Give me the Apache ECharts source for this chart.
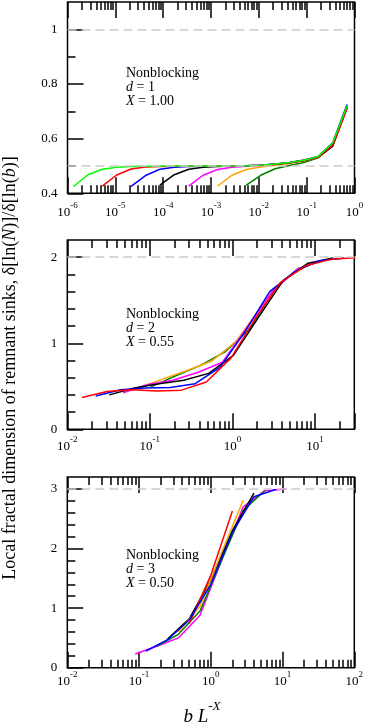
<!DOCTYPE html>
<html><head><meta charset="utf-8">
<script src="https://cdn.jsdelivr.net/npm/echarts@6/dist/echarts.min.js"></script>
<style>html,body{margin:0;padding:0;background:#fff}#c{width:366px;height:727px}</style>
</head><body><div id="c"></div>
<script>
// ---------- Panel 1 (d = 1, X = 1.00) ----------
const p1X = [1.335e-6, 2.67e-6, 5.34e-6, 1.068e-5, 2.136e-5, 4.272e-5, 8.545e-5, 1.709e-4, 3.418e-4, 6.836e-4,
             1.367e-3, 2.734e-3, 5.469e-3, 0.01094, 0.02188, 0.04375, 0.0875, 0.175, 0.35, 0.7];
const p1Lime    = [0.425, 0.468, 0.488, 0.495, 0.498, 0.499, 0.5, 0.5, 0.5, 0.5, 0.5, 0.5, 0.501, 0.503, 0.507, 0.513, 0.521, 0.535, 0.585, 0.72];
const p1Red     = [null, null, 0.426, 0.467, 0.489, 0.496, 0.498, 0.499, 0.5, 0.5, 0.5, 0.5, 0.501, 0.503, 0.506, 0.512, 0.52, 0.532, 0.575, 0.71];
const p1Blue    = [null, null, null, null, 0.425, 0.465, 0.488, 0.495, 0.498, 0.499, 0.5, 0.5, 0.501, 0.503, 0.507, 0.513, 0.522, 0.535, 0.585, 0.725];
const p1Black   = [null, null, null, null, null, null, 0.43, 0.468, 0.488, 0.495, 0.498, 0.5, 0.501, 0.503, 0.506, 0.512, 0.52, 0.532, 0.572, 0.715];
const p1Magenta = [null, null, null, null, null, null, null, null, 0.426, 0.466, 0.487, 0.495, 0.499, 0.502, 0.506, 0.512, 0.52, 0.533, 0.58, 0.72];
const p1Orange  = [null, null, null, null, null, null, null, null, null, null, 0.426, 0.466, 0.487, 0.496, 0.502, 0.509, 0.518, 0.532, 0.578, 0.718];
const p1DkGreen = [null, null, null, null, null, null, null, null, null, null, null, null, 0.43, 0.466, 0.49, 0.502, 0.513, 0.53, 0.575, 0.715];

// ---------- Panel 2 (d = 2, X = 0.55) ----------
const p2RedX     = [0.0151, 0.0302, 0.0604, 0.121, 0.242, 0.483, 0.966, 1.93, 3.87, 7.73, 15.5, 30.9];
const p2Red      = [0.37, 0.44, 0.46, 0.445, 0.455, 0.55, 0.83, 1.3, 1.71, 1.9, 1.975, 1.995];
const p2BlueX    = [0.0221, 0.0442, 0.0884, 0.177, 0.354, 0.707, 1.41, 2.83, 5.66, 11.3, 22.6];
const p2Blue     = [0.386, 0.46, 0.48, 0.485, 0.53, 0.72, 1.13, 1.6, 1.83, 1.96, 1.99];
const p2BlackX   = [0.0323, 0.0646, 0.129, 0.258, 0.517, 1.03, 2.07, 4.13, 8.27, 16.5];
const p2Black    = [0.40, 0.48, 0.53, 0.57, 0.65, 0.86, 1.3, 1.73, 1.93, 1.99];
const p2MagentaX = [0.0474, 0.0948, 0.19, 0.379, 0.758, 1.52, 3.03, 6.07, 12.1];
const p2Magenta  = [0.425, 0.52, 0.57, 0.66, 0.78, 1.19, 1.6, 1.86, 1.96];
const p2OrangeX  = [0.0694, 0.139, 0.278, 0.555, 1.11, 2.22, 4.44, 8.88];
const p2Orange   = [0.47, 0.58, 0.68, 0.79, 1.02, 1.42, 1.75, 1.93];
const p2DkGreenX = [0.1016, 0.203, 0.406, 0.813, 1.63, 3.25, 6.5];
const p2DkGreen  = [0.49, 0.62, 0.74, 0.9, 1.17, 1.63, 1.88];

// ---------- Panel 3 (d = 3, X = 0.50) ----------
const p3MagentaX = [0.0884, 0.177, 0.354, 0.707, 1.41, 2.83, 5.66, 11.3];
const p3Magenta  = [0.23, 0.36, 0.5, 0.88, 1.8, 2.7, 2.97, 3.0];
const p3BlueX    = [0.125, 0.25, 0.5, 1.0, 2.0, 4.0, 8.0];
const p3Blue     = [0.28, 0.47, 0.8, 1.4, 2.27, 2.87, 2.99];
const p3DkGreenX = [0.177, 0.354, 0.707, 1.41, 2.83, 5.66];
const p3DkGreen  = [0.36, 0.56, 0.95, 1.8, 2.64, 2.97];
const p3BlackX   = [0.25, 0.5, 1.0, 2.0, 4.0];
const p3Black    = [0.48, 0.82, 1.47, 2.3, 2.93];
const p3OrangeX  = [0.354, 0.707, 1.41, 2.83];
const p3Orange   = [0.6, 1.03, 1.93, 2.81];
const p3RedX     = [0.5, 1.0, 2.0];
const p3Red      = [0.74, 1.55, 2.63];

// ---------- Axes / ticks ----------
const xRange1 = [1e-6, 1];
const xRange2 = [0.01, 30];
const xRange3 = [0.01, 100];
const yRange1 = [0.4, 1.1];
const yRange2 = [0, 2.2];
const yRange3 = [0, 3.2];
const yMajor1 = [0.4, 0.6, 0.8, 1];
const yMinor1 = [0.5, 0.7, 0.9];
const yMajor2 = [0, 1, 2];
const yMinor2 = [0.2, 0.4, 0.6, 0.8, 1.2, 1.4, 1.6, 1.8];
const yMajor3 = [0, 1, 2, 3];
const yMinor3 = [0.2, 0.4, 0.6, 0.8, 1.2, 1.4, 1.6, 1.8, 2.2, 2.4, 2.6, 2.8];
const refLines1 = [1, 0.5];
const refLines2 = [2];
const refLines3 = [3];

const COLORS = {lime: '#00ff00', red: '#ff0000', blue: '#0000ff', black: '#000000',
                magenta: '#ff00ff', orange: '#ffa500', dkgreen: '#008000'};
const FONT = 'Liberation Serif';

function minorLog(min, max) {
  const out = [];
  for (let d = Math.floor(Math.log10(min)); d <= Math.ceil(Math.log10(max)); d++) {
    for (let m = 2; m <= 9; m++) {
      const v = m * Math.pow(10, d);
      if (v > min && v < max) out.push(v);
    }
  }
  return out;
}

const tickLine = {color: '#000', width: 1.5};
const logRich = {
  b: {fontSize: 13, fontFamily: FONT, color: '#000', lineHeight: 18, verticalAlign: 'bottom'},
  s: {fontSize: 9, fontFamily: FONT, color: '#000', verticalAlign: 'top'}
};
function logFmt(v) {
  const e = Math.round(Math.log10(v));
  if (Math.abs(v - Math.pow(10, e)) > 1e-6 * v) return '';
  return '{b|10}{s|' + e + '}';
}

const grids = [
  {left: 67.5, top: 2, width: 287, height: 191.3},
  {left: 67.3, top: 240, width: 287, height: 189.3},
  {left: 67.3, top: 477, width: 287, height: 190.7}
].map(g => Object.assign({show: true, borderColor: '#000', borderWidth: 1.5, outerBoundsMode: 'none', containLabel: false}, g));

const xAxes = [];
const yAxes = [];
const xRanges = [xRange1, xRange2, xRange3];
const labelMargins = [8, 6, 2];
const mainX = [], mainY = [];
for (let g = 0; g < 3; g++) {
  const [mn, mx] = xRanges[g];
  const minors = minorLog(mn, mx);
  ['bottom', 'top'].forEach(pos => {
    if (pos === 'bottom') mainX.push(xAxes.length);
    xAxes.push({
      gridIndex: g, type: 'log', logBase: 10, min: mn, max: mx, position: pos,
      axisLine: {show: false}, splitLine: {show: false},
      axisTick: {show: true, inside: true, length: 16, lineStyle: tickLine},
      minorTick: {show: false},
      axisLabel: {show: pos === 'bottom', margin: labelMargins[g], interval: 0, formatter: logFmt, rich: logRich,
                  showMinLabel: true, showMaxLabel: true}
    });
    xAxes.push({
      gridIndex: g, type: 'log', logBase: 10, min: mn, max: mx, position: pos,
      axisLine: {show: false}, splitLine: {show: false},
      axisTick: {show: true, inside: true, length: 8, lineStyle: tickLine, customValues: minors},
      axisLabel: {show: false}
    });
  });
}
const yRanges = [yRange1, yRange2, yRange3];
const yMajors = [yMajor1, yMajor2, yMajor3];
const yMinors = [yMinor1, yMinor2, yMinor3];
for (let g = 0; g < 3; g++) {
  mainY.push(yAxes.length);
  yAxes.push({
    gridIndex: g, type: 'value', min: yRanges[g][0], max: yRanges[g][1], position: 'left',
    axisLine: {show: false}, splitLine: {show: false},
    axisTick: {show: true, inside: true, length: 16, lineStyle: tickLine, customValues: yMajors[g]},
    axisLabel: {show: true, margin: 10, fontSize: 13, fontFamily: FONT, color: '#000', customValues: yMajors[g]}
  });
  yAxes.push({
    gridIndex: g, type: 'value', min: yRanges[g][0], max: yRanges[g][1], position: 'left',
    axisLine: {show: false}, splitLine: {show: false},
    axisTick: {show: true, inside: true, length: 8, lineStyle: tickLine, customValues: yMinors[g]},
    axisLabel: {show: false}
  });
}

function pairs(xs, ys) {
  const out = [];
  for (let i = 0; i < xs.length; i++) if (ys[i] != null) out.push([xs[i], ys[i]]);
  return out;
}
function line(g, xs, ys, color) {
  return {type: 'line', xAxisIndex: mainX[g], yAxisIndex: mainY[g], data: pairs(xs, ys),
          showSymbol: false, symbol: 'none', lineStyle: {color: color, width: 1.5}, z: 3, silent: true};
}
function refLine(g, vals) {
  return {type: 'line', xAxisIndex: mainX[g], yAxisIndex: mainY[g], data: [], z: 2, silent: true,
          markLine: {silent: true, symbol: 'none', label: {show: false},
                     lineStyle: {color: '#cccccc', type: [9, 5], width: 1.5},
                     data: vals.map(v => ({yAxis: v}))}};
}

const series = [
  refLine(0, refLines1),
  line(0, p1X, p1DkGreen, COLORS.dkgreen),
  line(0, p1X, p1Orange, COLORS.orange),
  line(0, p1X, p1Magenta, COLORS.magenta),
  line(0, p1X, p1Black, COLORS.black),
  line(0, p1X, p1Blue, COLORS.blue),
  line(0, p1X, p1Red, COLORS.red),
  line(0, p1X, p1Lime, COLORS.lime),
  refLine(1, refLines2),
  line(1, p2DkGreenX, p2DkGreen, COLORS.dkgreen),
  line(1, p2OrangeX, p2Orange, COLORS.orange),
  line(1, p2MagentaX, p2Magenta, COLORS.magenta),
  line(1, p2BlackX, p2Black, COLORS.black),
  line(1, p2BlueX, p2Blue, COLORS.blue),
  line(1, p2RedX, p2Red, COLORS.red),
  refLine(2, refLines3),
  line(2, p3MagentaX, p3Magenta, COLORS.magenta),
  line(2, p3DkGreenX, p3DkGreen, COLORS.dkgreen),
  line(2, p3BlackX, p3Black, COLORS.black),
  line(2, p3OrangeX, p3Orange, COLORS.orange),
  line(2, p3RedX, p3Red, COLORS.red),
  line(2, p3BlueX, p3Blue, COLORS.blue)
];

const annRich = {i: {fontStyle: 'italic', fontSize: 14, fontFamily: FONT, lineHeight: 14, fill: '#000'}};
function annotation(y, d, X) {
  return {type: 'text', x: 126, y: y, z: 10, silent: true,
          style: {text: 'Nonblocking\n{i|d} = ' + d + '\n{i|X} = ' + X, fontSize: 14, fontFamily: FONT,
                  lineHeight: 14, fill: '#000', textAlign: 'left', textVerticalAlign: 'top', rich: annRich}};
}

const option = {
  animation: false,
  backgroundColor: '#fff',
  grid: grids,
  xAxis: xAxes,
  yAxis: yAxes,
  series: series,
  graphic: [
    annotation(66, '1', '1.00'),
    annotation(307.5, '2', '0.55'),
    annotation(548, '3', '0.50'),
    {type: 'text', x: 10, y: 368, rotation: Math.PI / 2, silent: true,
     style: {text: 'Local fractal dimension of remnant sinks, δ[ln({i|N})]/δ[ln({i|b})]',
             fontSize: 18, fontFamily: FONT, fill: '#000', textAlign: 'center', textVerticalAlign: 'middle',
             rich: {i: {fontStyle: 'italic', fontSize: 18, fontFamily: FONT, fill: '#000'}}}},
    {type: 'text', x: 202, y: 713, silent: true,
     style: {text: '{i|b L}{s|-X}', textAlign: 'center', textVerticalAlign: 'middle',
             rich: {i: {fontStyle: 'italic', fontSize: 19, fontFamily: FONT, fill: '#000', lineHeight: 26, verticalAlign: 'bottom'},
                    s: {fontStyle: 'italic', fontSize: 13, fontFamily: FONT, fill: '#000', verticalAlign: 'top'}}}}
  ]
};

const chart = echarts.init(document.getElementById('c'), null, {renderer: 'canvas'});
chart.setOption(option);
</script>
</body></html>
